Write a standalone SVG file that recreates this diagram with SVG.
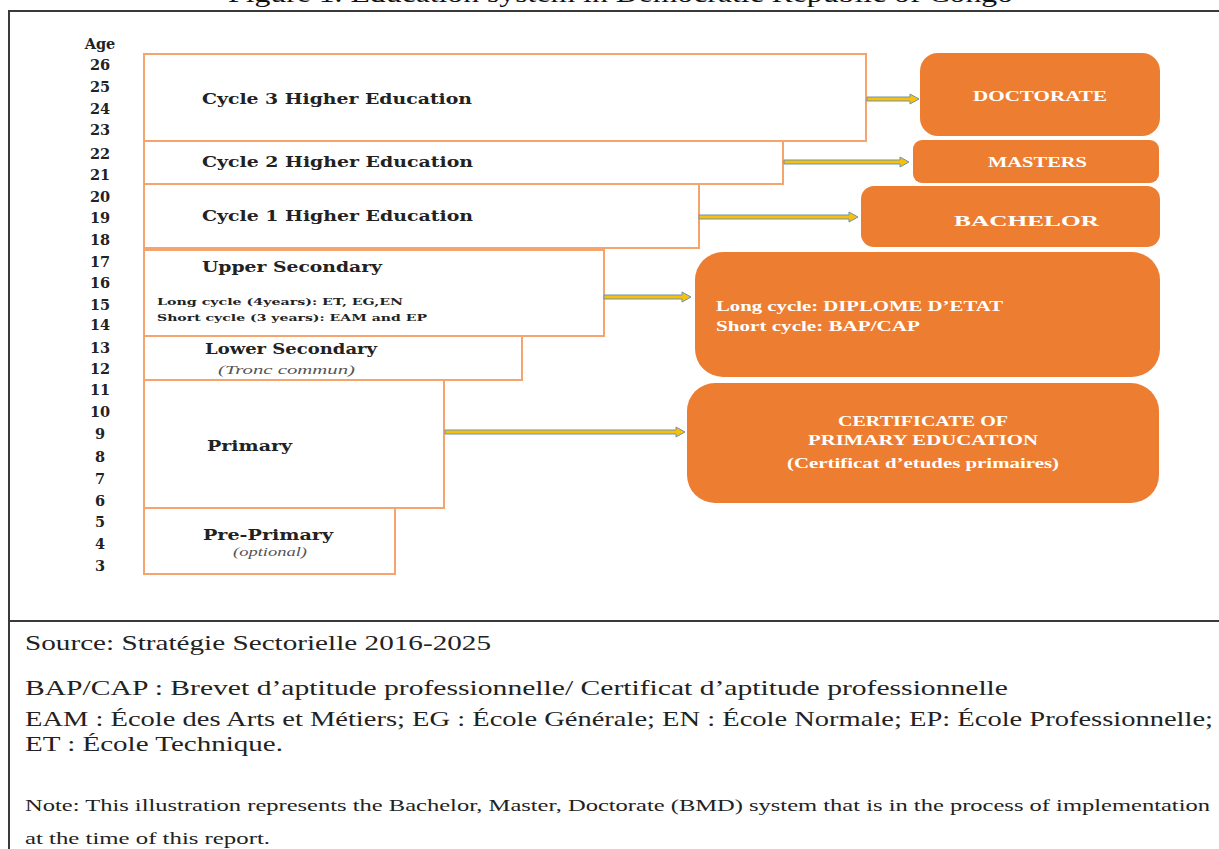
<svg xmlns="http://www.w3.org/2000/svg" width="1219" height="849" viewBox="0 0 1219 849">
<style>
.frame{stroke:#3a3a3a;stroke-width:2;fill:none}
.lvl{fill:#fff;stroke:#F4A46C;stroke-width:2}
.out{fill:#ED7D31}
.age{font-family:"DejaVu Serif",serif;font-weight:bold;font-size:14.5px;fill:#222;text-anchor:middle}
.lbl{font-family:"DejaVu Serif",serif;font-weight:bold;font-size:15px;fill:#222}
.sm{font-family:"DejaVu Serif",serif;font-weight:bold;font-size:9.5px;fill:#222}
.it{font-family:"Liberation Serif",serif;font-style:italic;font-size:12px;fill:#555}
.wt{font-family:"Liberation Serif",serif;font-weight:bold;font-size:15px;fill:#fff}
.wtc{font-family:"Liberation Serif",serif;font-weight:bold;font-size:14.5px;fill:#fff;text-anchor:middle}
.src{font-family:"Liberation Serif",serif;font-size:22px;fill:#222}
.note{font-family:"Liberation Serif",serif;font-size:17px;fill:#222}
.arr{fill:#F7C00A;stroke:#6F93AE;stroke-width:1}
</style>
<rect width="1219" height="849" fill="#fff"/>
<text x="228" y="2" font-family="Liberation Serif,serif" font-size="26" fill="#111" textLength="785" lengthAdjust="spacingAndGlyphs">Figure 1. Education system in Democratic Republic of Congo</text>
<g id="frame">
<line class="frame" x1="8" y1="11" x2="1219" y2="11"/>
<line class="frame" x1="9" y1="10" x2="9" y2="849"/>
<line class="frame" x1="8" y1="621" x2="1219" y2="621"/>
</g>
<g id="ages">
<text class="age" x="100" y="49" font-size="12">Age</text>
<text class="age" x="100" y="70">26</text>
<text class="age" x="100" y="92">25</text>
<text class="age" x="100" y="114">24</text>
<text class="age" x="100" y="135">23</text>
<text class="age" x="100" y="159">22</text>
<text class="age" x="100" y="180">21</text>
<text class="age" x="100" y="202">20</text>
<text class="age" x="100" y="223">19</text>
<text class="age" x="100" y="245">18</text>
<text class="age" x="100" y="267">17</text>
<text class="age" x="100" y="288">16</text>
<text class="age" x="100" y="310">15</text>
<text class="age" x="100" y="330">14</text>
<text class="age" x="100" y="353">13</text>
<text class="age" x="100" y="374">12</text>
<text class="age" x="100" y="395">11</text>
<text class="age" x="100" y="417">10</text>
<text class="age" x="100" y="439">9</text>
<text class="age" x="100" y="462">8</text>
<text class="age" x="100" y="484">7</text>
<text class="age" x="100" y="506">6</text>
<text class="age" x="100" y="527">5</text>
<text class="age" x="100" y="549">4</text>
<text class="age" x="100" y="571">3</text>
</g>
<g id="cycle3"><rect class="lvl" x="144" y="54" width="722" height="87"/>
<text class="lbl" x="202" y="104" textLength="270" lengthAdjust="spacingAndGlyphs">Cycle 3 Higher Education</text></g>
<g id="cycle2"><rect class="lvl" x="144" y="141" width="639" height="43"/>
<text class="lbl" x="202" y="167" textLength="271" lengthAdjust="spacingAndGlyphs">Cycle 2 Higher Education</text></g>
<g id="cycle1"><rect class="lvl" x="144" y="184" width="555" height="64"/>
<text class="lbl" x="202" y="221" textLength="271" lengthAdjust="spacingAndGlyphs">Cycle 1 Higher Education</text></g>
<g id="upper"><rect class="lvl" x="144" y="250" width="460" height="86"/>
<text class="lbl" x="202" y="272" textLength="180" lengthAdjust="spacingAndGlyphs">Upper Secondary</text>
<text class="sm" x="157" y="305" textLength="246" lengthAdjust="spacingAndGlyphs">Long cycle  (4years): ET, EG,EN</text>
<text class="sm" x="157" y="321" textLength="270" lengthAdjust="spacingAndGlyphs">Short cycle  (3 years): EAM and EP</text></g>
<g id="lower"><rect class="lvl" x="144" y="336" width="378" height="44"/>
<text class="lbl" x="205" y="354" textLength="172" lengthAdjust="spacingAndGlyphs">Lower Secondary</text>
<text class="it" x="218" y="374" textLength="137" lengthAdjust="spacingAndGlyphs">(Tronc commun)</text></g>
<g id="primary"><rect class="lvl" x="144" y="380" width="300" height="128"/>
<text class="lbl" x="207" y="451" textLength="85" lengthAdjust="spacingAndGlyphs">Primary</text></g>
<g id="preprimary"><rect class="lvl" x="144" y="508" width="251" height="66"/>
<text class="lbl" x="203" y="540" textLength="130" lengthAdjust="spacingAndGlyphs">Pre-Primary</text>
<text class="it" x="233" y="556" font-size="10" textLength="74" lengthAdjust="spacingAndGlyphs">(optional)</text></g>
<g id="doctorate"><rect class="out" x="920" y="53" width="240" height="83" rx="18"/>
<text class="wt" x="973" y="101" textLength="134" lengthAdjust="spacingAndGlyphs">DOCTORATE</text></g>
<g id="masters"><rect class="out" x="913" y="140" width="246" height="43" rx="9"/>
<text class="wt" x="988" y="167" textLength="99" lengthAdjust="spacingAndGlyphs">MASTERS</text></g>
<g id="bachelor"><rect class="out" x="861" y="186" width="299" height="61" rx="13"/>
<text class="wt" x="954" y="226" textLength="145" lengthAdjust="spacingAndGlyphs">BACHELOR</text></g>
<g id="diplome"><rect class="out" x="695" y="252" width="465" height="125" rx="28"/>
<text class="wt" x="716" y="311" font-size="14" textLength="287" lengthAdjust="spacingAndGlyphs">Long cycle: DIPLOME D’ETAT</text>
<text class="wt" x="716" y="331" font-size="14" textLength="204" lengthAdjust="spacingAndGlyphs">Short cycle: BAP/CAP</text></g>
<g id="certificate"><rect class="out" x="687" y="383" width="472" height="120" rx="28"/>
<text class="wtc" x="923" y="426" textLength="170" lengthAdjust="spacingAndGlyphs">CERTIFICATE OF</text>
<text class="wtc" x="923" y="445" textLength="230" lengthAdjust="spacingAndGlyphs">PRIMARY EDUCATION</text>
<text class="wtc" x="923" y="468" font-size="13.5" textLength="272" lengthAdjust="spacingAndGlyphs">(Certificat d’etudes primaires)</text></g>
<g id="connectors">
<polygon class="arr" points="867,97 910,97 910,94 919,99 910,104 910,101 867,101"/>
<polygon class="arr" points="784,160 900,160 900,157 909,162 900,167 900,164 784,164"/>
<polygon class="arr" points="699,215 849,215 849,212 858,217 849,222 849,219 699,219"/>
<polygon class="arr" points="604,295 682,295 682,292 691,297 682,302 682,299 604,299"/>
<polygon class="arr" points="445,430 676,430 676,427 685,432 676,437 676,434 445,434"/>
</g>
<g id="notes">
<text class="src" x="25" y="650" textLength="466" lengthAdjust="spacingAndGlyphs">Source: Stratégie Sectorielle 2016-2025</text>
<text class="src" x="25" y="695" textLength="983" lengthAdjust="spacingAndGlyphs">BAP/CAP : Brevet d’aptitude professionnelle/ Certificat d’aptitude professionnelle</text>
<text class="src" x="25" y="726" textLength="1188" lengthAdjust="spacingAndGlyphs">EAM : École des Arts et Métiers; EG : École Générale; EN : École Normale; EP: École Professionnelle;</text>
<text class="src" x="25" y="751" textLength="258" lengthAdjust="spacingAndGlyphs">ET : École Technique.</text>
<text class="note" x="25" y="811" textLength="1185" lengthAdjust="spacingAndGlyphs">Note: This illustration represents the Bachelor, Master, Doctorate (BMD) system that is in the process of implementation</text>
<text class="note" x="25" y="844" textLength="245" lengthAdjust="spacingAndGlyphs">at the time of this report.</text>
</g>
</svg>
